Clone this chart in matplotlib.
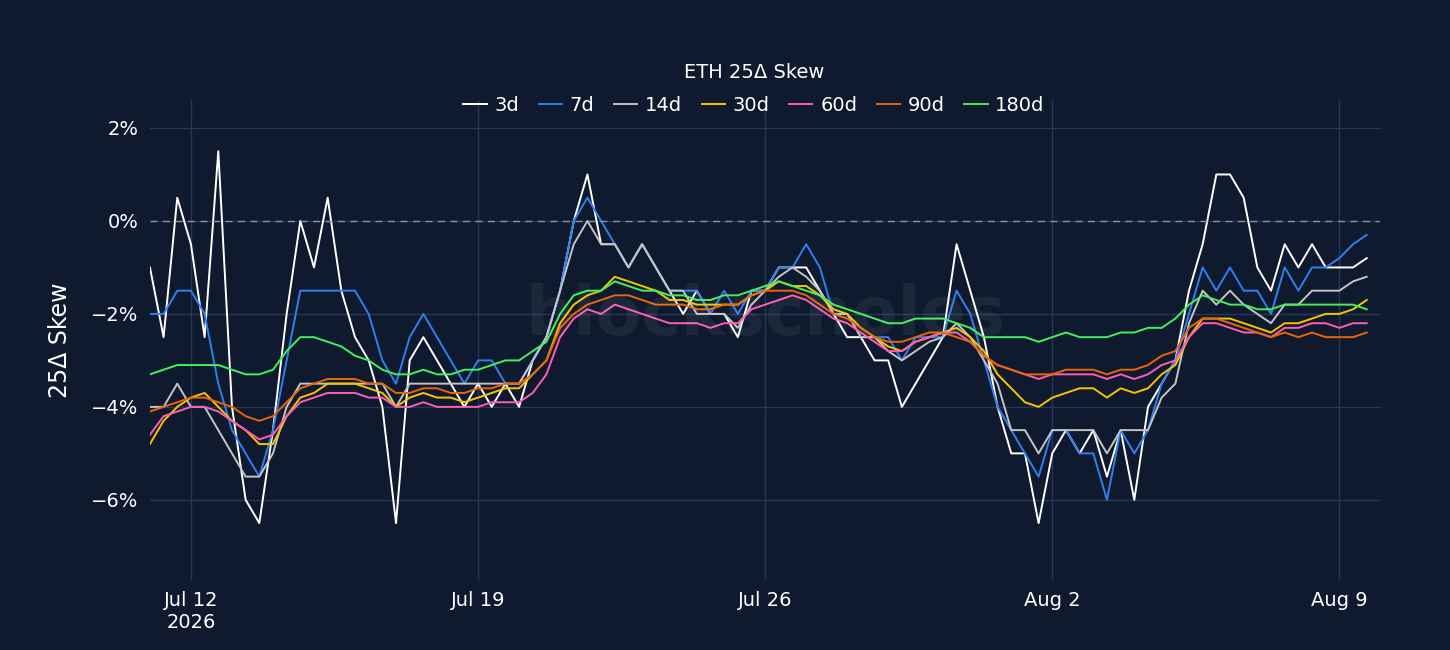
import numpy as np
import pandas as pd
import matplotlib.pyplot as plt
import matplotlib.dates as mdates
from matplotlib.ticker import FuncFormatter

# 8-hourly samples, Jul 11 00:00 -> Aug 9 16:00 (values in %)
times = pd.date_range('2026-07-11 00:00', periods=90, freq='8h')

s3d = [-1, -2.5, 0.5, -0.5, -2.5, 1.5, -4, -6, -6.5, -4.5, -2, 0, -1, 0.5, -1.5,
       -2.5, -3, -4, -6.5, -3, -2.5, -3, -3.5, -4, -3.5, -4, -3.5, -4, -3, -2.5,
       -1.5, 0, 1, -0.5, -0.5, -1, -0.5, -1, -1.5, -2, -1.5, -2, -2, -2.5, -1.5,
       -1.5, -1, -1, -1, -1.5, -2, -2.5, -2.5, -3, -3, -4, -3.5, -3, -2.5, -0.5,
       -1.5, -2.5, -4, -5, -5, -6.5, -5, -4.5, -5, -4.5, -5.5, -4.5, -6, -4, -3.5,
       -3, -1.5, -0.5, 1, 1, 0.5, -1, -1.5, -0.5, -1, -0.5, -1, -1, -1, -0.8]
s7d = [-2, -2, -1.5, -1.5, -2, -3.5, -4.5, -5, -5.5, -4.5, -3, -1.5, -1.5, -1.5, -1.5,
       -1.5, -2, -3, -3.5, -2.5, -2, -2.5, -3, -3.5, -3, -3, -3.5, -3.5, -3, -2.5,
       -1.5, 0, 0.5, 0, -0.5, -1, -0.5, -1, -1.5, -1.5, -1.5, -2, -1.5, -2, -1.5,
       -1.5, -1, -1, -0.5, -1, -2, -2, -2.5, -2.5, -2.5, -3, -2.5, -2.5, -2.5, -1.5,
       -2, -3, -4, -4.5, -5, -5.5, -4.5, -4.5, -5, -5, -6, -4.5, -5, -4.5, -3.5,
       -3, -2, -1, -1.5, -1, -1.5, -1.5, -2, -1, -1.5, -1, -1, -0.8, -0.5, -0.3]
s14d = [-4, -4, -3.5, -4, -4, -4.5, -5, -5.5, -5.5, -5, -4, -3.5, -3.5, -3.5, -3.5,
        -3.5, -3.5, -3.5, -4, -3.5, -3.5, -3.5, -3.5, -3.5, -3.5, -3.5, -3.5, -3.5, -3, -2.5,
        -1.5, -0.5, 0, -0.5, -0.5, -1, -0.5, -1, -1.5, -1.5, -2, -2, -2, -2.3, -1.8,
        -1.5, -1.2, -1, -1.2, -1.5, -2, -2, -2.5, -2.5, -2.8, -3, -2.8, -2.6, -2.5, -2.2,
        -2.5, -3, -3.5, -4.5, -4.5, -5, -4.5, -4.5, -4.5, -4.5, -5, -4.5, -4.5, -4.5, -3.8,
        -3.5, -2.2, -1.5, -1.8, -1.5, -1.8, -2, -2.2, -1.8, -1.8, -1.5, -1.5, -1.5, -1.3, -1.2]
s30d = [-4.8, -4.3, -4, -3.8, -3.7, -4, -4.3, -4.5, -4.8, -4.8, -4.2, -3.8, -3.7, -3.5, -3.5,
        -3.5, -3.6, -3.7, -4, -3.8, -3.7, -3.8, -3.8, -3.9, -3.8, -3.7, -3.6, -3.6, -3.3, -3,
        -2.2, -1.8, -1.6, -1.5, -1.2, -1.3, -1.4, -1.5, -1.7, -1.7, -1.8, -1.8, -1.8, -1.8, -1.6,
        -1.5, -1.3, -1.4, -1.4, -1.6, -1.9, -2, -2.3, -2.5, -2.7, -2.8, -2.6, -2.5, -2.4, -2.3,
        -2.5, -2.8, -3.3, -3.6, -3.9, -4, -3.8, -3.7, -3.6, -3.6, -3.8, -3.6, -3.7, -3.6, -3.3,
        -3.1, -2.5, -2.1, -2.1, -2.1, -2.2, -2.3, -2.4, -2.2, -2.2, -2.1, -2.0, -2.0, -1.9, -1.7]
s60d = [-4.6, -4.2, -4.1, -4, -4, -4.1, -4.3, -4.5, -4.7, -4.6, -4.2, -3.9, -3.8, -3.7, -3.7,
        -3.7, -3.8, -3.8, -4, -4, -3.9, -4, -4, -4, -4, -3.9, -3.9, -3.9, -3.7, -3.3,
        -2.5, -2.1, -1.9, -2, -1.8, -1.9, -2, -2.1, -2.2, -2.2, -2.2, -2.3, -2.2, -2.2, -1.9,
        -1.8, -1.7, -1.6, -1.7, -1.9, -2.1, -2.2, -2.4, -2.6, -2.8, -2.8, -2.6, -2.5, -2.4, -2.4,
        -2.6, -2.9, -3.1, -3.2, -3.3, -3.4, -3.3, -3.3, -3.3, -3.3, -3.4, -3.3, -3.4, -3.3, -3.1,
        -3, -2.5, -2.2, -2.2, -2.3, -2.4, -2.4, -2.5, -2.3, -2.3, -2.2, -2.2, -2.3, -2.2, -2.2]
s90d = [-4.1, -4, -3.9, -3.8, -3.8, -3.9, -4, -4.2, -4.3, -4.2, -3.9, -3.6, -3.5, -3.4, -3.4,
        -3.4, -3.5, -3.5, -3.7, -3.7, -3.6, -3.6, -3.7, -3.7, -3.6, -3.6, -3.5, -3.5, -3.3, -3.0,
        -2.3, -2, -1.8, -1.7, -1.6, -1.6, -1.7, -1.8, -1.8, -1.8, -1.9, -1.9, -1.8, -1.8, -1.6,
        -1.5, -1.5, -1.5, -1.6, -1.8, -2, -2.1, -2.3, -2.5, -2.6, -2.6, -2.5, -2.4, -2.4, -2.5,
        -2.6, -2.9, -3.1, -3.2, -3.3, -3.3, -3.3, -3.2, -3.2, -3.2, -3.3, -3.2, -3.2, -3.1, -2.9,
        -2.8, -2.3, -2.1, -2.1, -2.2, -2.3, -2.4, -2.5, -2.4, -2.5, -2.4, -2.5, -2.5, -2.5, -2.4]
s180d = [-3.3, -3.2, -3.1, -3.1, -3.1, -3.1, -3.2, -3.3, -3.3, -3.2, -2.8, -2.5, -2.5, -2.6, -2.7,
         -2.9, -3, -3.2, -3.3, -3.3, -3.2, -3.3, -3.3, -3.2, -3.2, -3.1, -3, -3.0, -2.8, -2.6,
         -2.0, -1.6, -1.5, -1.5, -1.3, -1.4, -1.5, -1.5, -1.6, -1.6, -1.7, -1.7, -1.6, -1.6, -1.5,
         -1.4, -1.3, -1.4, -1.5, -1.6, -1.8, -1.9, -2.0, -2.1, -2.2, -2.2, -2.1, -2.1, -2.1, -2.2,
         -2.3, -2.5, -2.5, -2.5, -2.5, -2.6, -2.5, -2.4, -2.5, -2.5, -2.5, -2.4, -2.4, -2.3, -2.3,
         -2.1, -1.8, -1.6, -1.7, -1.8, -1.8, -1.9, -1.9, -1.8, -1.8, -1.8, -1.8, -1.8, -1.8, -1.9]

labels = ['3d', '7d', '14d', '30d', '60d', '90d', '180d']
series = [s3d, s7d, s14d, s30d, s60d, s90d, s180d]
colors = ['#ffffff', '#2f7ff0', '#c4c4c4', '#f7c400', '#ff5cb4', '#e8650a', '#3ff25c']

bg = '#0f1a2e'
fig = plt.figure(figsize=(14.5, 6.5), dpi=100, facecolor=bg)
ax = fig.add_axes([0.1034, 0.108, 0.8486, 0.738], facecolor=bg)

for lab, s, c in zip(labels, series, colors):
    ax.plot(times, s, color=c, lw=1.4, label=lab)

ax.axhline(0, color='#8a93a6', lw=1, ls=(0, (5, 4)))
ax.set_ylim(-7.72, 2.6)
ax.set_xlim(pd.Timestamp('2026-07-11 00:00'), pd.Timestamp('2026-08-10 00:00'))
ax.set_yticks([-6, -4, -2, 2])
ax.yaxis.set_major_formatter(FuncFormatter(lambda v, p: f'{v:.0f}%'.replace('-', '\u2212')))
ax.set_yticks([-6, -4, -2, 0, 2])

ticks = pd.to_datetime(['2026-07-12', '2026-07-19', '2026-07-26', '2026-08-02', '2026-08-09'])
ax.set_xticks(ticks)
ax.set_xticklabels(['Jul 12\n2026', 'Jul 19', 'Jul 26', 'Aug 2', 'Aug 9'])

ax.grid(True, color='#27365a', lw=1)
ax.set_axisbelow(True)
for sp in ax.spines.values():
    sp.set_visible(False)
ax.tick_params(colors='white', labelsize=14, length=0, pad=8)
ax.set_ylabel('25Δ Skew', color='white', fontsize=17, labelpad=14)

ax.text(0.5, 0.55, 'blockscholes', transform=ax.transAxes, ha='center', va='center',
        fontsize=48, color='white', alpha=0.06, fontweight='bold')

fig.text(0.52, 0.888, 'ETH 25Δ Skew', color='white', fontsize=14, ha='center', va='center')
leg = fig.legend(loc='center', bbox_to_anchor=(0.52, 0.838), ncol=7, frameon=False,
                 fontsize=14, handlelength=1.2, handletextpad=0.4, columnspacing=1.0)
for t in leg.get_texts():
    t.set_color('white')

fig.savefig('out.png', dpi=100, facecolor=bg)
